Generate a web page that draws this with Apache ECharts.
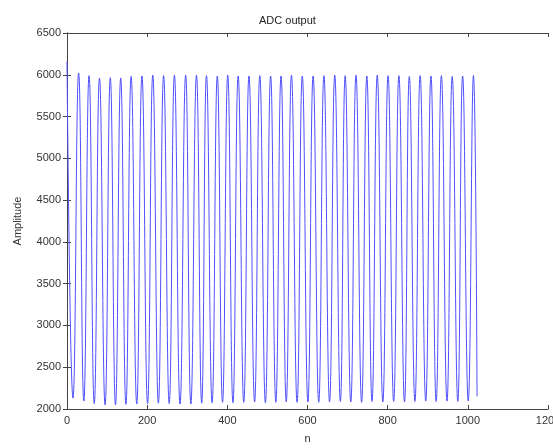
<!DOCTYPE html>
<html>
<head>
<meta charset="utf-8">
<script src="https://cdn.jsdelivr.net/npm/echarts@6/dist/echarts.min.js"></script>
<style>
html,body{margin:0;padding:0;background:#fff;}
#chart{width:553px;height:448px;}
</style>
</head>
<body>
<div id="chart"></div>
<script>
// Extremes of the ADC output waveform
var startPoint = [0, 6160];
var endPoint = [1023, 2150];
var peakN = [29, 55, 81, 108, 134, 160, 187, 214, 241, 268, 296, 323, 348, 375, 401, 427, 454, 481, 508, 534, 560, 587, 614, 641, 668, 694, 721, 748, 774, 801, 828, 854, 881, 908, 934, 961, 987, 1014];
var peakVal = [6020, 5990, 5960, 5965, 5960, 5980, 5985, 5995, 5990, 5995, 5995, 5995, 5990, 5985, 5995, 5985, 5985, 5990, 5985, 5985, 5995, 5985, 5985, 5990, 5995, 5990, 5995, 5985, 5995, 5990, 5990, 5980, 5990, 5985, 5990, 5980, 5985, 5990];
var troughN = [15, 42, 68, 95, 121, 147, 174, 201, 228, 255, 282, 309, 336, 362, 388, 414, 441, 468, 495, 521, 547, 574, 601, 628, 655, 682, 708, 735, 761, 788, 815, 842, 868, 895, 921, 948, 975, 1001];
var troughVal = [2130, 2095, 2065, 2050, 2050, 2055, 2060, 2065, 2070, 2065, 2060, 2060, 2070, 2075, 2080, 2075, 2080, 2085, 2075, 2080, 2085, 2080, 2085, 2080, 2085, 2090, 2085, 2080, 2090, 2085, 2090, 2085, 2090, 2095, 2090, 2095, 2090, 2095];
var xTicks = {min: 0, max: 1200, interval: 200};
var yTicks = {min: 2000, max: 6500, interval: 500};

var pts = [startPoint];
for (var i = 0; i < troughN.length; i++) {
  pts.push([troughN[i], troughVal[i]]);
  if (i < peakN.length) pts.push([peakN[i], peakVal[i]]);
}
pts.push(endPoint);

var axisColor = '#444';
var labelStyle = {color: '#333', fontFamily: 'Liberation Sans', fontSize: 11};
var plain = function (v) { return String(v); };

var chart = echarts.init(document.getElementById('chart'), null, {renderer: 'canvas'});
chart.setOption({
  animation: false,
  backgroundColor: '#fff',
  title: {
    text: 'ADC output',
    left: 254, top: 10,
    textStyle: {fontFamily: 'Liberation Sans', fontSize: 11, fontWeight: 'normal', color: '#222'}
  },
  grid: {left: 67, right: 5, top: 33, bottom: 39, containLabel: false, outerBoundsMode: 'none'},
  xAxis: [{
    type: 'value', min: xTicks.min, max: xTicks.max, interval: xTicks.interval, position: 'bottom',
    name: 'n', nameLocation: 'middle', nameGap: 24,
    nameTextStyle: labelStyle,
    axisLine: {show: true, lineStyle: {color: axisColor, width: 1}},
    axisTick: {show: true, inside: true, length: 4, lineStyle: {color: axisColor}},
    axisLabel: Object.assign({margin: 6, formatter: plain, hideOverlap: false}, labelStyle),
    splitLine: {show: false}
  }, {
    type: 'value', min: xTicks.min, max: xTicks.max, interval: xTicks.interval, position: 'top',
    axisLine: {show: true, lineStyle: {color: axisColor, width: 1}},
    axisTick: {show: true, inside: true, length: 4, lineStyle: {color: axisColor}},
    axisLabel: {show: false},
    splitLine: {show: false}
  }],
  yAxis: [{
    type: 'value', min: yTicks.min, max: yTicks.max, interval: yTicks.interval, position: 'left',
    name: 'Amplitude', nameLocation: 'middle', nameGap: 44, nameRotate: 90,
    nameTextStyle: labelStyle,
    axisLine: {show: true, lineStyle: {color: axisColor, width: 1}},
    axisTick: {show: true, inside: true, length: 4, lineStyle: {color: axisColor}},
    axisLabel: Object.assign({margin: 6, formatter: plain}, labelStyle),
    splitLine: {show: false}
  }, {
    type: 'value', min: yTicks.min, max: yTicks.max, interval: yTicks.interval, position: 'right',
    axisLine: {show: true, lineStyle: {color: axisColor, width: 1}},
    axisTick: {show: true, inside: true, length: 4, lineStyle: {color: axisColor}},
    axisLabel: {show: false},
    splitLine: {show: false}
  }],
  series: [{
    type: 'line',
    xAxisIndex: 0, yAxisIndex: 0,
    data: pts,
    showSymbol: false,
    smooth: 0.5,
    lineStyle: {color: '#5050ff', width: 1}
  }]
});
</script>
</body>
</html>
